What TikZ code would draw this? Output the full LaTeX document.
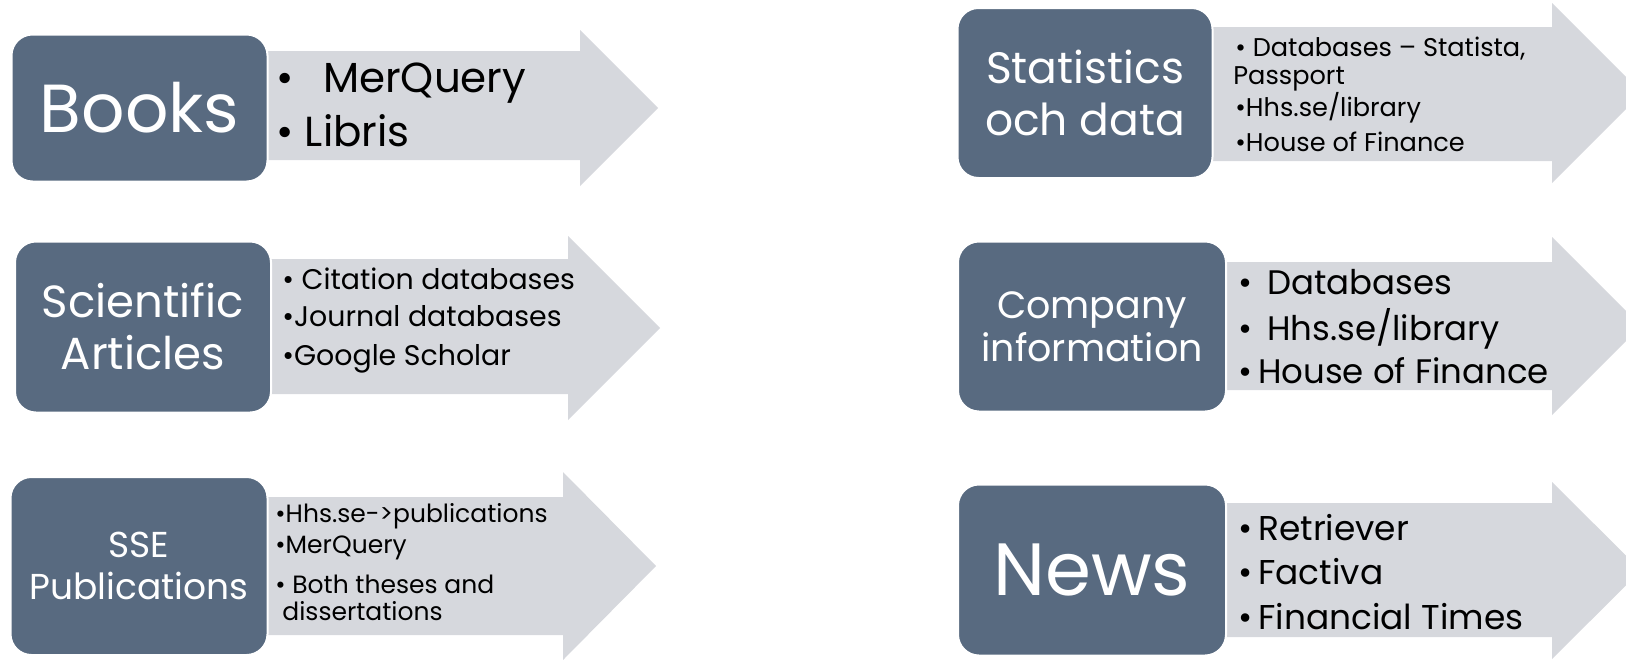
\documentclass[tikz,border=0pt]{standalone}
\usepackage{fontspec}
\setmainfont{Poppins}
\usetikzlibrary{positioning}
\definecolor{slate}{HTML}{586A80}
\definecolor{pale}{HTML}{D6D8DD}

\begin{document}
\begin{tikzpicture}[x=0.5pt,y=-0.5pt]
\tikzstyle{topic}=[rectangle, rounded corners=10.5pt, fill=slate, draw=white, line width=1pt, text=white, align=center, inner sep=0pt]
\tikzstyle{item}=[anchor=base west, inner sep=0pt, text=black]

\useasboundingbox (0,0) rectangle (1626,659);

% block arrows: tail / head base / tip / body top / body bottom / head top / head bottom
\foreach \a/\b/\c/\t/\u/\p/\q in {255/580/658/51/160/30/186, 1200/1552/1642/27/161/3/183,
  260/568/660/259/394/236/420, 1215/1552/1641/262/390/237/415,
  255/563/656/497/635/472/660, 1215/1552/1641/503/637/482/659}
  {\fill[pale] (\a,\t) -- (\b,\t) -- (\b,\p) -- (\c,{(\p+\q)/2}) -- (\b,\q) -- (\b,\u) -- (\a,\u) -- cycle;}

% topics
\node[topic, minimum width=128pt, minimum height=73.5pt, font=\fontsize{34}{38}\selectfont] (B) at (139.5,108) {Books};
\node[topic, minimum width=127.5pt, minimum height=85pt, font=\fontsize{22}{26}\selectfont] (S) at (1085,93) {Statistics\\och data};
\node[topic, minimum width=128pt, minimum height=85.5pt, font=\fontsize{22.5}{26}\selectfont] (A) at (143,327) {Scientific\\Articles};
\node[topic, minimum width=134pt, minimum height=85pt, font=\fontsize{19}{21.5}\selectfont] (C) at (1092,326.5) {Company\\information};
\node[topic, minimum width=128.5pt, minimum height=89pt, font=\fontsize{18}{21}\selectfont] (P) at (139,566) {SSE\\Publications};
\node[topic, minimum width=134pt, minimum height=85.5pt, font=\fontsize{37}{40}\selectfont] (N) at (1092,570) {News};

% bullet lists
\foreach \n/\x/\y/\t in {B1/276/92/{•~ \,MerQuery}, B2/276/146/{• Libris}}
  {\node[item, font=\fontsize{21}{24}\selectfont] (\n) at (\x,\y) {\t};}
\foreach \n/\x/\y/\t in {S1/1235/56/{• Databases – Statista,}, S2/1233/84/{Passport},
  S3/1235/116/{•Hhs.se/library}, S4/1235/151/{•House of Finance}}
  {\node[item, font=\fontsize{12.8}{15}\selectfont] (\n) at (\x,\y) {\t};}
\foreach \n/\x/\y/\t in {A1/282/289/{• Citation databases}, A2/282/326/{•Journal databases},
  A3/282/365/{•Google Scholar}}
  {\node[item, font=\fontsize{14.2}{17}\selectfont] (\n) at (\x,\y) {\t};}
\foreach \n/\x/\y/\t in {C1/1238/294/{• \,Databases}, C2/1238/340/{• \,Hhs.se/library},
  C3/1238/383/{•\,House of Finance}}
  {\node[item, font=\fontsize{17}{20}\selectfont] (\n) at (\x,\y) {\t};}
\foreach \n/\x/\y/\t in {P1/275/522/{•Hhs.se->publications}, P2/275/553/{•MerQuery},
  P3/275/593/{• Both theses and}, P4/282/620/{dissertations}}
  {\node[item, font=\fontsize{12.5}{15}\selectfont] (\n) at (\x,\y) {\t};}
\foreach \n/\x/\y/\t in {N1/1238/540/{•\,Retriever}, N2/1238/584/{•\,Factiva},
  N3/1238/629/{•\,Financial Times}}
  {\node[item, font=\fontsize{17.2}{20}\selectfont] (\n) at (\x,\y) {\t};}
\end{tikzpicture}
\end{document}
